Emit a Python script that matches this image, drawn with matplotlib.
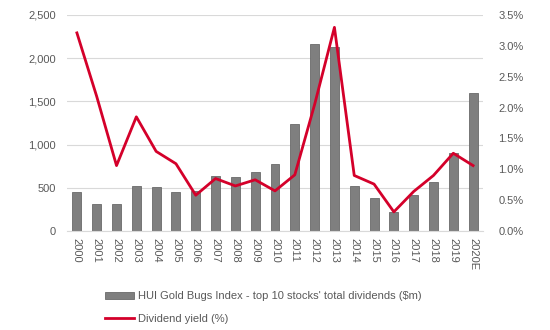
import numpy as np
import matplotlib.pyplot as plt
from matplotlib.ticker import FuncFormatter

years = ['2000', '2001', '2002', '2003', '2004', '2005', '2006', '2007', '2008', '2009', '2010',
         '2011', '2012', '2013', '2014', '2015', '2016', '2017', '2018', '2019', '2020E']
dividends = [450, 315, 315, 520, 510, 450, 465, 635, 625, 685, 780,
             1240, 2165, 2135, 520, 385, 220, 415, 570, 905, 1600]
yield_pct = [3.21, 2.18, 1.06, 1.85, 1.29, 1.09, 0.58, 0.85, 0.73, 0.83, 0.65,
             0.91, 2.05, 3.30, 0.90, 0.76, 0.31, 0.64, 0.90, 1.26, 1.06]

txt = '#595959'
plt.rcParams['font.family'] = ['Liberation Sans', 'DejaVu Sans']
plt.rcParams['font.size'] = 8

fig = plt.figure(figsize=(5.5, 3.3), dpi=100)
ax = fig.add_axes([67 / 550, 1 - 231 / 330, 416 / 550, 216 / 330])
x = np.arange(len(years))

ax.bar(x, dividends, width=0.45, color='#7f7f7f', edgecolor='#6a6a6a', linewidth=0.6,
       label="HUI Gold Bugs Index - top 10 stocks' total dividends ($m)", zorder=2)
ax.set_ylim(0, 2500)
ax.set_yticks(range(0, 2501, 500))
ax.yaxis.set_major_formatter(FuncFormatter(lambda v, p: f'{v:,.0f}'))
ax.set_xlim(-0.5, len(years) - 0.5)
ax.set_xticks(x)
ax.set_xticklabels(years, rotation=-90)
ax.grid(axis='y', color='#d9d9d9', linewidth=0.8, zorder=0)
ax.set_axisbelow(True)
for s in ['top', 'left', 'right']:
    ax.spines[s].set_visible(False)
ax.spines['bottom'].set_color('#d9d9d9')
ax.tick_params(length=0, colors=txt, pad=8)
ax.tick_params(axis='x', pad=5)

ax2 = ax.twinx()
ax2.plot(x, yield_pct, color='#d4002a', linewidth=2, label='Dividend yield (%)', zorder=3)
ax2.set_ylim(0, 3.5)
ax2.set_yticks(np.arange(0, 3.51, 0.5))
ax2.yaxis.set_major_formatter(FuncFormatter(lambda v, p: f'{v:.1f}%'))
for s in ax2.spines.values():
    s.set_visible(False)
ax2.tick_params(length=0, colors=txt, pad=11)

h1, l1 = ax.get_legend_handles_labels()
h2, l2 = ax2.get_legend_handles_labels()
fig.legend(h1 + h2, l1 + l2, loc='upper left', bbox_to_anchor=(101 / 550, 1 - 287 / 330),
           frameon=False, labelcolor=txt, handlelength=2.6, handletextpad=0.3,
           labelspacing=1.15, borderaxespad=0)

fig.savefig('out.png', dpi=100)
